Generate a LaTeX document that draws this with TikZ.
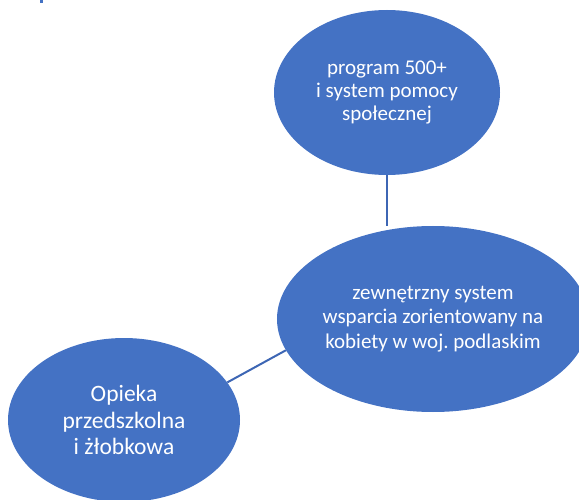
\documentclass[tikz,border=0pt]{standalone}
\usepackage{fontspec}
\setmainfont{Carlito}
\frenchspacing
\usetikzlibrary{shapes.geometric}
\definecolor{bubblefill}{HTML}{4472C4}
\definecolor{linkline}{HTML}{3D66B4}
\tikzset{
  bubble/.style={ellipse, fill=bubblefill, text=white, align=center, inner sep=0pt},
  link/.style={draw=linkline, line width=2pt}
}
\begin{document}
\begin{tikzpicture}[x=1pt,y=-1pt]
  \useasboundingbox (0,0) rectangle (579,500);
  \fill[bubblefill] (40,0) rectangle (43,3.5);
  \node[bubble, minimum width=226pt, minimum height=165pt,
    font=\fontsize{21}{23}\selectfont] (pomoc) at (387,92.5)
    {program 500+\\i system pomocy\\społecznej};
  \node[bubble, minimum width=300pt, minimum height=186pt,
    font=\fontsize{21}{24.5}\selectfont] (wsparcie) at (433,319)
    {zewnętrzny system\\wsparcia zorientowany na\\kobiety w woj. podlaskim};
  \node[bubble, minimum width=232pt, minimum height=164pt,
    font=\fontsize{23.5}{26.5}\selectfont] (opieka) at (124,420)
    {Opieka\\przedszkolna\\i żłobkowa};
  \draw[link] (pomoc.south) -- (pomoc.south |- wsparcie.north);
  \draw[link] (opieka.20) -- (wsparcie.192);
\end{tikzpicture}
\end{document}
